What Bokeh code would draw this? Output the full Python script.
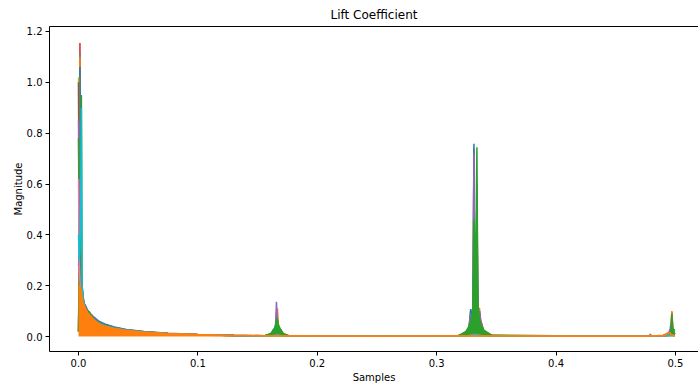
from bokeh.plotting import figure
from bokeh.models import Range1d, FixedTicker, PrintfTickFormatter, LinearAxis
from bokeh.embed import file_html
from bokeh.resources import INLINE

# Frequency samples (shared grid)
freq = [0.0, 0.0006, 0.0012, 0.0018, 0.0024, 0.0030, 0.0038, 0.0048, 0.0060, 0.0075,
        0.0090, 0.0110, 0.0135, 0.0170, 0.0220, 0.0300, 0.0400, 0.0550, 0.0750, 0.1000, 0.1300,
        0.1560, 0.1610, 0.1635, 0.1650, 0.1658, 0.1666, 0.1675, 0.1690, 0.1715, 0.1760,
        0.2500,
        0.3180, 0.3245, 0.3270, 0.3285, 0.3296, 0.3304, 0.3312, 0.3320, 0.3329, 0.3337,
        0.3345, 0.3358, 0.3372, 0.3395, 0.3460,
        0.4200,
        0.4780, 0.4790, 0.4800, 0.4900, 0.4940, 0.4955, 0.4962, 0.4970, 0.4978, 0.4986, 0.4995]

mag_run01 = [0.02, 0.30, 1.155, 0.30, 0.20, 0.17, 0.14, 0.12, 0.11, 0.10, 0.09, 0.085, 0.07, 0.057, 0.045, 0.035, 0.026, 0.018, 0.012, 0.007, 0.004,
             0.003, 0.006, 0.010, 0.02, 0.06, 0.04, 0.02, 0.01, 0.006, 0.003,
             0.002,
             0.003, 0.01, 0.02, 0.04, 0.06, 0.10, 0.30, 0.06, 0.08, 0.30, 0.06, 0.05, 0.06, 0.02, 0.004,
             0.002,
             0.002, 0.003, 0.002, 0.004, 0.008, 0.012, 0.03, 0.095, 0.02, 0.015, 0.01]
mag_run02 = [0.02, 0.25, 1.12, 0.25, 0.18, 0.15, 0.13, 0.11, 0.10, 0.09, 0.085, 0.075, 0.065, 0.052, 0.042, 0.033, 0.025, 0.017, 0.011, 0.007, 0.004,
             0.002, 0.004, 0.008, 0.015, 0.03, 0.03, 0.015, 0.008, 0.004, 0.002,
             0.002,
             0.002, 0.008, 0.015, 0.03, 0.05, 0.08, 0.20, 0.05, 0.06, 0.20, 0.05, 0.04, 0.03, 0.015, 0.003,
             0.002,
             0.002, 0.010, 0.002, 0.003, 0.005, 0.008, 0.02, 0.04, 0.015, 0.01, 0.008]
mag_run03 = [0.02, 0.35, 1.10, 0.30, 0.22, 0.18, 0.15, 0.13, 0.115, 0.10, 0.095, 0.085, 0.07, 0.058, 0.047, 0.036, 0.027, 0.019, 0.012, 0.008, 0.005,
             0.003, 0.008, 0.02, 0.03, 0.09, 0.11, 0.04, 0.02, 0.008, 0.003,
             0.002,
             0.003, 0.012, 0.03, 0.10, 0.07, 0.12, 0.74, 0.10, 0.09, 0.55, 0.10, 0.113, 0.05, 0.02, 0.004,
             0.002,
             0.002, 0.003, 0.002, 0.005, 0.015, 0.015, 0.03, 0.10, 0.02, 0.015, 0.01]
mag_run04 = [0.28, 0.30, 1.06, 0.28, 0.24, 0.20, 0.16, 0.13, 0.12, 0.105, 0.095, 0.08, 0.075, 0.06, 0.05, 0.038, 0.028, 0.02, 0.013, 0.008, 0.005,
             0.003, 0.01, 0.03, 0.02, 0.05, 0.05, 0.02, 0.03, 0.01, 0.003,
             0.002,
             0.003, 0.012, 0.03, 0.108, 0.07, 0.12, 0.758, 0.08, 0.09, 0.50, 0.09, 0.10, 0.04, 0.02, 0.004,
             0.002,
             0.002, 0.003, 0.002, 0.004, 0.008, 0.012, 0.02, 0.04, 0.015, 0.01, 0.008]
mag_run05 = [1.02, 0.45, 0.30, 0.25, 0.22, 0.18, 0.15, 0.12, 0.10, 0.09, 0.095, 0.07, 0.065, 0.055, 0.045, 0.034, 0.026, 0.018, 0.012, 0.007, 0.004,
             0.002, 0.004, 0.008, 0.012, 0.02, 0.02, 0.012, 0.008, 0.004, 0.002,
             0.002,
             0.002, 0.008, 0.015, 0.03, 0.04, 0.06, 0.15, 0.05, 0.05, 0.15, 0.05, 0.04, 0.03, 0.012, 0.003,
             0.002,
             0.002, 0.003, 0.002, 0.003, 0.005, 0.007, 0.01, 0.02, 0.01, 0.008, 0.006]
mag_run06 = [1.00, 0.40, 0.30, 0.22, 0.19, 0.16, 0.14, 0.115, 0.10, 0.085, 0.08, 0.075, 0.06, 0.05, 0.042, 0.032, 0.024, 0.017, 0.011, 0.007, 0.004,
             0.002, 0.005, 0.01, 0.02, 0.08, 0.05, 0.02, 0.01, 0.005, 0.002,
             0.002,
             0.002, 0.008, 0.02, 0.04, 0.05, 0.07, 0.25, 0.05, 0.06, 0.25, 0.06, 0.05, 0.03, 0.012, 0.003,
             0.002,
             0.002, 0.003, 0.002, 0.003, 0.005, 0.008, 0.012, 0.03, 0.012, 0.008, 0.006]
mag_run07 = [0.85, 0.35, 0.28, 0.24, 0.21, 0.18, 0.15, 0.12, 0.105, 0.09, 0.09, 0.085, 0.07, 0.057, 0.046, 0.035, 0.026, 0.018, 0.012, 0.007, 0.004,
             0.003, 0.008, 0.02, 0.04, 0.137, 0.06, 0.03, 0.02, 0.008, 0.003,
             0.002,
             0.003, 0.012, 0.03, 0.09, 0.07, 0.10, 0.72, 0.08, 0.08, 0.60, 0.09, 0.10, 0.05, 0.02, 0.004,
             0.002,
             0.002, 0.003, 0.002, 0.004, 0.01, 0.03, 0.05, 0.04, 0.015, 0.01, 0.008]
mag_run08 = [0.02, 0.20, 0.35, 0.50, 0.95, 0.20, 0.15, 0.12, 0.10, 0.095, 0.098, 0.08, 0.065, 0.055, 0.045, 0.034, 0.025, 0.018, 0.012, 0.007, 0.004,
             0.002, 0.005, 0.01, 0.02, 0.04, 0.04, 0.02, 0.01, 0.005, 0.002,
             0.002,
             0.002, 0.008, 0.02, 0.04, 0.05, 0.08, 0.30, 0.06, 0.07, 0.35, 0.06, 0.05, 0.03, 0.012, 0.003,
             0.002,
             0.002, 0.003, 0.002, 0.003, 0.006, 0.01, 0.015, 0.05, 0.02, 0.015, 0.01]
mag_run09 = [0.78, 0.30, 0.25, 0.20, 0.18, 0.15, 0.13, 0.11, 0.095, 0.085, 0.085, 0.075, 0.062, 0.052, 0.042, 0.032, 0.024, 0.017, 0.011, 0.007, 0.004,
             0.003, 0.012, 0.025, 0.045, 0.068, 0.07, 0.045, 0.03, 0.012, 0.003,
             0.002,
             0.003, 0.02, 0.04, 0.06, 0.09, 0.12, 0.46, 0.35, 0.40, 0.745, 0.13, 0.07, 0.045, 0.025, 0.006,
             0.002,
             0.002, 0.003, 0.002, 0.004, 0.008, 0.015, 0.02, 0.09, 0.03, 0.028, 0.025]
mag_run10 = [0.62, 0.28, 0.22, 0.18, 0.17, 0.15, 0.13, 0.11, 0.09, 0.08, 0.082, 0.07, 0.06, 0.05, 0.041, 0.032, 0.024, 0.017, 0.011, 0.007, 0.004,
             0.002, 0.003, 0.004, 0.005, 0.006, 0.006, 0.005, 0.004, 0.003, 0.002,
             0.002,
             0.002, 0.003, 0.004, 0.005, 0.006, 0.006, 0.008, 0.006, 0.006, 0.008, 0.006, 0.005, 0.004, 0.003, 0.002,
             0.002,
             0.002, 0.002, 0.002, 0.003, 0.004, 0.004, 0.005, 0.006, 0.005, 0.004, 0.003]
mag_run11 = [0.40, 0.30, 0.35, 0.50, 0.90, 0.20, 0.15, 0.12, 0.10, 0.09, 0.085, 0.072, 0.062, 0.052, 0.042, 0.032, 0.024, 0.017, 0.011, 0.007, 0.004,
             0.002, 0.003, 0.004, 0.005, 0.006, 0.006, 0.005, 0.004, 0.003, 0.002,
             0.002,
             0.002, 0.003, 0.004, 0.005, 0.006, 0.007, 0.008, 0.007, 0.007, 0.008, 0.007, 0.005, 0.004, 0.003, 0.002,
             0.002,
             0.002, 0.002, 0.002, 0.003, 0.004, 0.004, 0.005, 0.006, 0.005, 0.004, 0.003]
mag_run12 = [0.20, 0.20, 0.20, 0.19, 0.17, 0.15, 0.13, 0.12, 0.11, 0.095, 0.085, 0.075, 0.062, 0.05, 0.04, 0.031, 0.023, 0.016, 0.011, 0.007, 0.004,
             0.003, 0.003, 0.003, 0.003, 0.003, 0.003, 0.003, 0.003, 0.003, 0.003,
             0.002,
             0.003, 0.003, 0.003, 0.003, 0.003, 0.003, 0.003, 0.003, 0.003, 0.003, 0.003, 0.003, 0.003, 0.003, 0.003,
             0.002,
             0.002, 0.003, 0.003, 0.004, 0.012, 0.015, 0.008, 0.006, 0.005, 0.004, 0.003]

x_ticks = [0.0, 0.1, 0.2, 0.3, 0.4, 0.5]
y_ticks = [0.0, 0.2, 0.4, 0.6, 0.8, 1.0, 1.2]

runs = [mag_run01, mag_run02, mag_run03, mag_run04, mag_run05, mag_run06,
        mag_run07, mag_run08, mag_run09, mag_run10, mag_run11, mag_run12]
colors = ["#d62728", "#7f7f7f", "#ff7f0e", "#1f77b4", "#bcbd22", "#8c564b",
          "#9467bd", "#2ca02c", "#2ca02c", "#e377c2", "#17becf", "#ff7f0e"]
for r in runs:
    if len(r) != len(freq):
        raise ValueError("length mismatch %d" % len(r))

FONT = "DejaVu Sans"
p = figure(width=698, height=385, output_backend="svg", toolbar_location=None,
           x_range=Range1d(-0.0243, 0.5193), y_range=Range1d(-0.0588, 1.2196),
           min_border_left=49, min_border_right=0, min_border_top=25, min_border_bottom=34,
           title="Lift Coefficient")
p.title.align = "center"
p.title.text_font = FONT
p.title.text_font_size = "12px"
p.title.text_font_style = "normal"
p.title.text_color = "black"
p.xgrid.visible = False
p.ygrid.visible = False
p.outline_line_color = None
p.background_fill_color = "white"
p.border_fill_color = "white"

for ax, ticks, lab, st in ((p.xaxis[0], x_ticks, "Samples", 2), (p.yaxis[0], y_ticks, "Magnitude", 0)):
    ax.ticker = FixedTicker(ticks=ticks)
    ax.formatter = PrintfTickFormatter(format="%.1f")
    ax.axis_label = lab
    ax.axis_label_text_font = FONT
    ax.axis_label_text_font_size = "10px"
    ax.axis_label_text_font_style = "normal"
    ax.axis_label_text_color = "black"
    ax.major_label_text_font = FONT
    ax.major_label_text_font_size = "10px"
    ax.major_label_text_color = "black"
    ax.major_tick_out = 4
    ax.major_tick_in = 0
    ax.minor_tick_out = 0
    ax.minor_tick_in = 0
    ax.axis_line_color = "black"
    ax.major_tick_line_color = "black"
    ax.major_label_standoff = 3
    ax.axis_label_standoff = st

top_axis = LinearAxis(ticker=FixedTicker(ticks=[]), major_label_text_font_size="0px",
                      major_tick_out=0, major_tick_in=0, minor_tick_out=0, minor_tick_in=0,
                      axis_line_color="black")
p.add_layout(top_axis, "above")

n_tail = 21
for i, (r, c) in enumerate(zip(runs[:-1], colors[:-1])):
    if i == 8:
        # dense spectral lines around the harmonics read as a solid fill
        p.varea(x=freq[n_tail:], y1=[0.0] * (len(freq) - n_tail), y2=r[n_tail:], fill_color=c)
    p.line(freq, r, line_color=c, line_width=1.5)

p.varea(x=freq[:n_tail], y1=[0.0] * n_tail, y2=mag_run12[:n_tail], fill_color=colors[-1])
p.line(freq, mag_run12, line_color=colors[-1], line_width=1.8)

open("out.html", "w").write(file_html(p, INLINE))
